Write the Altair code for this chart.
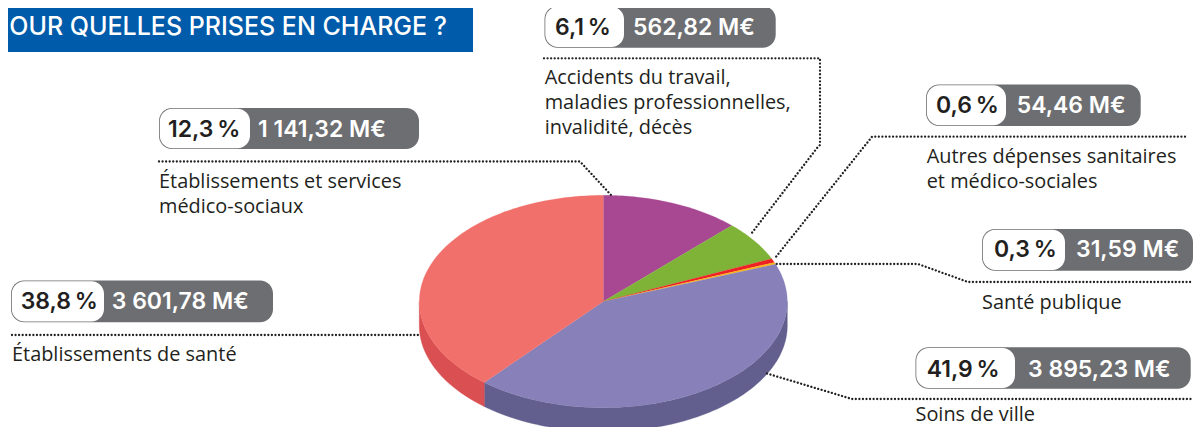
import math
import altair as alt
import pandas as pd

# ---- values
slices = ["Établissements et services médico-sociaux",
          "Accidents du travail, maladies professionnelles, invalidité, décès",
          "Autres dépenses sanitaires et médico-sociales",
          "Santé publique", "Soins de ville", "Établissements de santé"]
shares = [12.3, 6.1, 0.6, 0.3, 41.9, 38.8]
share_labels = ["12,3\u202f%", "6,1\u202f%", "0,6\u202f%", "0,3\u202f%", "41,9\u202f%", "38,8\u202f%"]
amount_labels = ["1 141,32 M€", "562,82 M€", "54,46 M€", "31,59 M€", "3 895,23 M€", "3 601,78 M€"]
title_text = "OUR QUELLES PRISES EN CHARGE ?"
desc_lines = [["Établissements et services", "médico-sociaux"],
              ["Accidents du travail,", "maladies professionnelles,", "invalidité, décès"],
              ["Autres dépenses sanitaires", "et médico-sociales"],
              ["Santé publique"], ["Soins de ville"], ["Établissements de santé"]]

# ---- layout and style (image pixel coordinates)
top_colors = ["#A84893", "#7EB338", "#ED2024", "#F9B31C", "#8780B9", "#F2706B"]
side_colors = {"Soins de ville": "#625F8E", "Établissements de santé": "#DA4F52"}
CX, CY, RX, RY, DEPTH = 603.3, 301.5, 184.0, 106.2, 24.0
BODY_FONT, PILL_FONT = "Open Sans", "Inter"
GREY, INK = "#6D6E71", "#231F20"

pill_x0 = [159, 544.5, 926, 982, 915.5, 11]
pill_x1 = [419, 775.7, 1140.7, 1193, 1190.7, 273]
pill_mid = [250, 624, 1006, 1065, 1015, 104]
pill_y0 = [108, 6, 84.5, 229, 347.3, 280.5]
pill_y1 = [149, 47.7, 126, 270.7, 388.7, 322.3]
pct_x = [168, 555, 936, 994, 926.7, 20.7]
amt_x = [258, 633, 1016.7, 1076, 1028, 111.7]
pill_base = [137, 34.5, 112.7, 257.3, 377.3, 309.3]
desc_x = [159, 544.7, 926.7, 982, 915.5, 12]
desc_base = [[188, 213], [84, 109, 134], [163, 188], [309], [421], [360.7]]
leaders = [[(159, 161.5), (580, 161.5), (611, 195)],
           [(544, 58.3), (820, 58.3), (820, 145), (817, 148), (751, 234)],
           [(1185, 136.7), (872, 136.7), (775, 258)],
           [(776.7, 264), (918, 264), (968, 282), (1193, 282)],
           [(767, 373.5), (852, 399), (1193, 399)],
           [(12, 335), (421, 335)]]


def ell(deg, dy=0.0):
    a = math.radians(deg)
    return [CX + RX * math.sin(a), CY - RY * math.cos(a) + dy]


def feature(name, ring):
    return {"type": "Feature", "properties": {"name": name},
            "geometry": {"type": "Polygon", "coordinates": [ring + [ring[0]]]}}


def sweep(a, b):
    n = max(2, int(abs(b - a)) + 2)
    return [a + (b - a) * i / (n - 1) for i in range(n)]


tops, sides, start = [], [], 0.0
for name, share in zip(slices, shares):
    end = start + share * 3.6
    arc = sweep(start, end)
    tops.append(feature("top " + name, [[CX, CY]] + [ell(t) for t in arc]))
    vis = sweep(max(start, 90), min(end, 270)) if end > 90 and start < 270 else None
    if vis and name in side_colors:
        sides.append(feature("side " + name, [ell(t) for t in vis] + [ell(t, DEPTH) for t in reversed(vis)]))
    start = end

names = ["top " + n for n in slices] + ["side " + n for n in side_colors]
cols = top_colors + list(side_colors.values())
pie_color = alt.Color("properties.name:N", scale=alt.Scale(domain=names, range=cols), legend=None)
pie_stroke = alt.Stroke("properties.name:N", scale=alt.Scale(domain=names, range=cols), legend=None)
side_layer = alt.Chart(alt.Data(values=sides)).mark_geoshape(strokeWidth=0.4).encode(color=pie_color, stroke=pie_stroke).project(type="identity", scale=1, translate=[-8, -8])
top_layer = alt.Chart(alt.Data(values=tops)).mark_geoshape(strokeWidth=0.2).encode(color=pie_color, stroke=pie_stroke).project(type="identity", scale=1, translate=[-8, -8])

X = alt.Scale(domain=[8, 1193], range=[0, 1185])
Y = alt.Scale(domain=[8, 427], range=[0, 419])


def px(f):
    return alt.X(f + ":Q", scale=X, axis=None)


def py(f):
    return alt.Y(f + ":Q", scale=Y, axis=None)


pills = pd.DataFrame(dict(x0=pill_x0, x1=pill_x1, m=pill_mid, y0=pill_y0, y1=pill_y1))
pills["wx"] = pills.x0 + 0.8
pills["wy0"] = pills.y0 + 0.8
pills["wy1"] = pills.y1 - 0.8

banner = alt.Chart(pd.DataFrame(dict(x0=[8], x1=[473], y0=[8], y1=[52]))).mark_rect(color="#005BAA").encode(
    x=px("x0"), x2="x1:Q", y=py("y0"), y2="y1:Q")
pill_bg = alt.Chart(pills).mark_rect(color=GREY, cornerRadius=13).encode(
    x=px("x0"), x2="x1:Q", y=py("y0"), y2="y1:Q")
pill_fg = alt.Chart(pills).mark_rect(color="white", cornerRadius=12.5).encode(
    x=px("wx"), x2="m:Q", y=py("wy0"), y2="wy1:Q")

title = alt.Chart(pd.DataFrame(dict(t=[title_text], x=[447], y=[34.5]))).mark_text(
    font=PILL_FONT, fontSize=25, fontWeight=500, color="white", align="right", baseline="alphabetic"
).encode(x=px("x"), y=py("y"), text="t:N")

pct = alt.Chart(pd.DataFrame(dict(t=share_labels, x=pct_x, y=pill_base))).mark_text(
    font=PILL_FONT, fontSize=23, fontWeight=600, color=INK, align="left", baseline="alphabetic"
).encode(x=px("x"), y=py("y"), text="t:N")
amt = alt.Chart(pd.DataFrame(dict(t=amount_labels, x=amt_x, y=pill_base))).mark_text(
    font=PILL_FONT, fontSize=23, fontWeight=600, color="white", align="left", baseline="alphabetic"
).encode(x=px("x"), y=py("y"), text="t:N")

rows = [dict(t=t, x=x, y=b) for ls, x, bs in zip(desc_lines, desc_x, desc_base) for t, b in zip(ls, bs)]
desc = alt.Chart(pd.DataFrame(rows)).mark_text(
    font=BODY_FONT, fontSize=19.9, color=INK, align="left", baseline="alphabetic"
).encode(x=px("x"), y=py("y"), text="t:N")

lead_rows = [dict(g=i, o=j, x=p[0], y=p[1]) for i, pts in enumerate(leaders) for j, p in enumerate(pts)]
lead = alt.Chart(pd.DataFrame(lead_rows)).mark_line(
    color=INK, strokeWidth=2.3, strokeCap="round", strokeDash=[0.01, 3.55], strokeJoin="round"
).encode(x=px("x"), y=py("y"), detail="g:N", order="o:Q")

chart = alt.layer(side_layer, top_layer, banner, pill_bg, pill_fg, title, pct, amt, desc, lead).resolve_scale(
    color="independent", stroke="independent"
).properties(width=1185, height=419, padding=0, autosize=alt.AutoSizeParams(type="none"), background="white").configure_view(stroke=None)

chart.save("out.html", embed_options={"renderer": "svg", "actions": False})
